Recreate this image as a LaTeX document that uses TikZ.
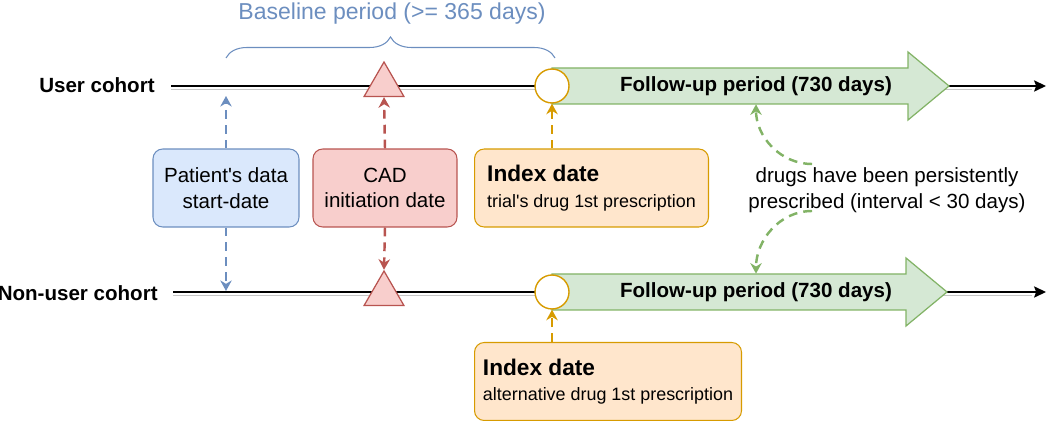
\documentclass[tikz,border=0pt]{standalone}
\usepackage{fontspec}
\setmainfont{Liberation Sans}
\usepackage{xcolor}
\usetikzlibrary{positioning, shapes.geometric, decorations.pathreplacing, arrows.meta}

\definecolor{blueline}{HTML}{6C8EBF}
\definecolor{bluefill}{HTML}{DAE8FC}
\definecolor{redline}{HTML}{B85450}
\definecolor{redfill}{HTML}{F8CECC}
\definecolor{orangeline}{HTML}{D79B00}
\definecolor{orangefill}{HTML}{FFE6CC}
\definecolor{greenline}{HTML}{82B366}
\definecolor{greenfill}{HTML}{D5E8D4}

\begin{document}
\begin{tikzpicture}[
  x=0.02cm, y=-0.02cm,
  every node/.style={font=\fontsize{11.7}{14.6}\selectfont, inner sep=0pt},
  cohort/.style={font=\fontsize{11.7}{14.6}\selectfont\bfseries, anchor=east},
  timeline/.style={line width=0.8pt, -{Stealth[length=6.8pt,width=6.4pt,inset=1.2pt]}},
  shadowline/.style={gray!45, line width=0.6pt},
  datebox/.style={draw, rounded corners=5.5pt, line width=0.6pt, minimum height=1.56cm, align=center},
  indexbox/.style={datebox, draw=orangeline, fill=orangefill, align=left, anchor=west},
  eventarrow/.style={line width=1.4pt, dash pattern=on 5pt off 3.5pt, -{Stealth[length=6pt,width=6.5pt]}},
  cadmark/.style={regular polygon, regular polygon sides=3, minimum size=0.92cm, draw=redline, fill=redfill, line width=0.7pt},
  indexmark/.style={circle, minimum size=0.68cm, draw=orangeline, fill=white, line width=0.8pt},
  followup/.style={draw=greenline, fill=greenfill, line width=0.7pt},
  fulabel/.style={font=\fontsize{11.7}{14.6}\selectfont\bfseries, minimum height=0.72cm}
]
  \useasboundingbox (0,0) rectangle (1050,421);

  % baseline brace
  \node[text=blueline, font=\fontsize{13.1}{15}\selectfont] (basetitle) at (392,14) {Baseline period (>= 365 days)};
  \coordinate (braceL) at (226,58);
  \coordinate (braceR) at (555,58);
  \draw[blueline, line width=0.6pt, decorate, decoration={brace, amplitude=0.42cm}] (braceL) -- (braceR);

  % cohort lines
  \node[cohort] (userlbl) at (155,85) {User cohort};
  \node[cohort] (nonlbl) at (158,293) {Non-user cohort};
  \coordinate (startU) at (171,86);
  \coordinate (endU) at (1046,86);
  \coordinate (startN) at (173,292);
  \coordinate (endN) at (1046,292);
  \draw[shadowline] ([yshift=-1.8pt]startU) -- ([yshift=-1.8pt,xshift=-8pt]endU);
  \draw[shadowline] ([yshift=-1.8pt]startN) -- ([yshift=-1.8pt,xshift=-8pt]endN);
  \draw[timeline] (startU) -- (endU);
  \draw[timeline] (startN) -- (endN);

  % follow-up arrows
  \draw[followup] (552,68) -- (908,68) -- (908,52) -- (949,86) -- (908,120) -- (908,104) -- (552,104) -- cycle;
  \draw[followup] (552,274) -- (906,274) -- (906,258) -- (947,292) -- (906,326) -- (906,310) -- (552,310) -- cycle;
  \node[fulabel] (fuU) at (756,86) {Follow-up period (730 days)};
  \node[fulabel] (fuN) at (756,292) {Follow-up period (730 days)};

  % markers on the lines
  \node[cadmark] (cadU) at (384,85) {};
  \node[cadmark] (cadN) at (384,294) {};
  \node[indexmark] (idxU) at (552,86) {};
  \node[indexmark] (idxN) at (552,292) {};

  % boxes
  \node[datebox, draw=blueline, fill=bluefill, minimum width=2.92cm] (databox) at (226,188) {Patient\textquotesingle s data\\start-date};
  \node[datebox, draw=redline, fill=redfill, minimum width=2.88cm] (cadbox) at (385,188) {CAD\\initiation date};
  \node[indexbox, minimum width=4.68cm] (indexU) at (474,188)
    {{\fontsize{12.9}{15}\selectfont\bfseries Index date}\\[0pt]{\fontsize{10.2}{12}\selectfont trial\textquotesingle s drug 1st prescription}};
  \node[indexbox, minimum width=5.34cm] (indexN) at (474,381.5)
    {{\fontsize{12.9}{15}\selectfont\bfseries Index date}\\[0pt]{\fontsize{10.2}{12}\selectfont alternative drug 1st prescription}};
  \node[align=center] (persist) at (887,190) {drugs have been persistently\\prescribed (interval < 30 days)};

  % connectors
  \coordinate (dataU) at (226,96);
  \coordinate (dataN) at (226,291);
  \draw[eventarrow, blueline] (databox.north) -- (dataU);
  \draw[eventarrow, blueline] (databox.south) -- (dataN);
  \draw[eventarrow, redline] (cadbox.north) -- (cadU.south);
  \draw[eventarrow, redline] (cadbox.south) -- (cadN.north);
  \draw[eventarrow, orangeline] (indexU.north -| idxU) -- (idxU.south);
  \draw[eventarrow, orangeline] (indexN.north -| idxN) -- (idxN.south);

  \coordinate (persistU) at (812,164);
  \coordinate (persistN) at (812,211);
  \draw[eventarrow, greenline] (persistU) to[out=180, in=-90] (fuU.south);
  \draw[eventarrow, greenline] (persistN) to[out=180, in=90] (fuN.north);
\end{tikzpicture}
\end{document}
